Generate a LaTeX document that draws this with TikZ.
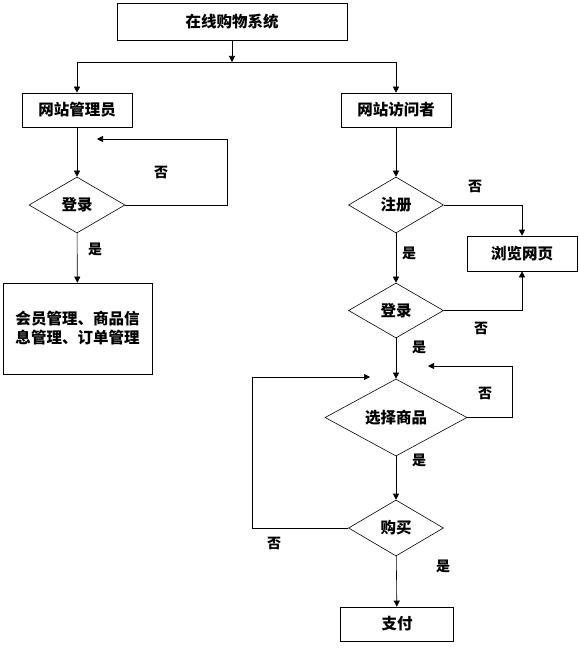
\documentclass[tikz,border=0pt]{standalone}
\usepackage{fontspec}
\newfontfamily\cjk{Noto Sans CJK SC}
\usetikzlibrary{arrows.meta}
\usetikzlibrary{shapes.geometric}

\begin{document}
\begin{tikzpicture}[x=1pt,y=-1pt,>={Triangle[length=6pt,width=6pt]},
	font=\cjk\bfseries\fontsize{15.5}{19}\selectfont,
	box/.style={draw,semithick,minimum height=34pt,inner sep=2pt},
	choice/.style={draw,semithick,diamond,inner sep=0pt,minimum height=56pt},
	yes/.style={font=\cjk\bfseries\fontsize{14}{16}\selectfont}]
	\useasboundingbox (0,0) rectangle (580,663);
	% boxes
	\node[box,minimum width=230pt,minimum height=37pt] (sys) at (232,21.5){在线购物系统};
	\node[box,minimum width=110pt] (admin) at (77,110){网站管理员};
	\node[box,minimum width=110pt] (visitor) at (396,110){网站访问者};
	\node[box,minimum width=149pt,minimum height=91pt,align=left] (manage) at (77.5,328.5){会员管理、商品信\\息管理、订单管理};
	\node[box,minimum width=110pt,minimum height=35pt] (browse) at (522,253.5){浏览网页};
	\node[box,minimum width=113pt] (pay) at (397,624){支付};
	% choices
	\node[choice,minimum width=96pt] (login1) at (77,205){登录};
	\node[choice,minimum width=95pt] (reg) at (396,205){注册};
	\node[choice,minimum width=95pt,minimum height=55pt] (login2) at (396,310.5){登录};
	\node[choice,minimum width=142pt,minimum height=57pt] (sel) at (396,417.5){选择商品};
	\node[choice,minimum width=95pt] (buy) at (396,528){购买};
	% joins
	\coordinate (fork) at (232,62);
	\coordinate (c1) at (227,139);\coordinate (a1) at (97,139);
	\coordinate (c2) at (512,366);\coordinate (a2) at (428,366);
	\coordinate (c3) at (252,377);\coordinate (a3) at (370,377);
	\draw[semithick,->] (sys) -- (fork);
	\draw[semithick,->] (fork) -| (admin);
	\draw[semithick,->] (fork) -| (visitor);
	\draw[semithick,->] (admin) -- (login1);
	\draw[semithick,->] (login1.east) -| (c1) -- (a1);
	\draw[semithick,->] (login1) -- (manage);
	\draw[semithick,->] (visitor) -- (reg);
	\draw[semithick,->] (reg.east) -| (browse.north);
	\draw[semithick,->] (reg) -- (login2);
	\draw[semithick,->] (login2.east) -| (browse.south);
	\draw[semithick,->] (login2) -- (sel);
	\draw[semithick,->] (sel.east) -| (c2) -- (a2);
	\draw[semithick,->] (sel) -- (buy);
	\draw[semithick,->] (buy.west) -| (c3) -- (a3);
	\draw[semithick,->] (buy) -- (pay);
	% labels
	\node[yes] (n1) at (161,172){否};
	\node[yes] (y1) at (95,249){是};
	\node[yes] (n2) at (475,186){否};
	\node[yes] (y2) at (409,253){是};
	\node[yes] (n3) at (481,328){否};
	\node[yes] (y3) at (419,347){是};
	\node[yes] (n4) at (485,393){否};
	\node[yes] (y4) at (419,460){是};
	\node[yes] (n5) at (274,543){否};
	\node[yes] (y5) at (443,566){是};
\end{tikzpicture}
\end{document}
